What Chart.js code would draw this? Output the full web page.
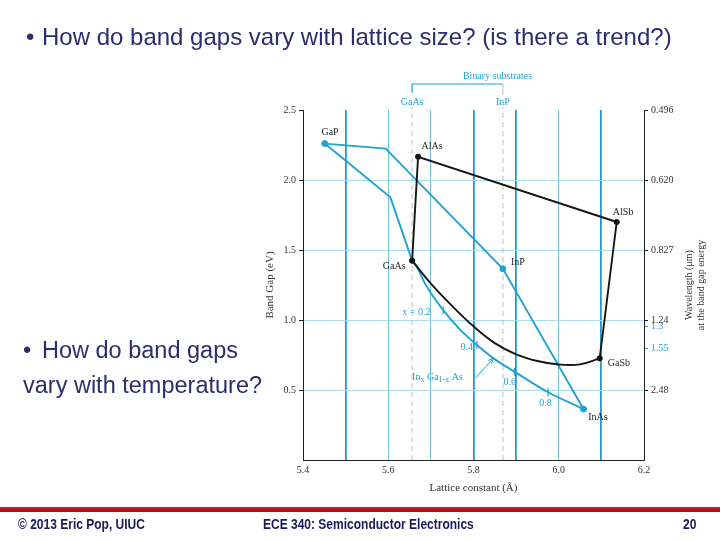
<!DOCTYPE html>
<html>
<head>
<meta charset="utf-8">
<script src="https://cdn.jsdelivr.net/npm/chart.js@4.4.1/dist/chart.umd.min.js"></script>
<style>
  html, body { margin: 0; padding: 0; background: #fff; }
  #slide { position: relative; width: 720px; height: 540px; overflow: hidden; background: #fff; }
  #chart { position: absolute; left: 0; top: 0; }
  .bullet { position: absolute; font-family: "Liberation Sans", Arial, sans-serif; color: #2d2c6e; white-space: nowrap; line-height: normal; }
  .redbar { position: absolute; left: 0; top: 507px; width: 720px; height: 5px; background: linear-gradient(#d01c20, #a80d12); }
  .foot { position: absolute; top: 515px; font-family: "Liberation Sans", Arial, sans-serif; font-weight: bold; font-size: 15px; line-height: normal;
          color: #1c1a5c; white-space: nowrap; transform: scaleX(0.8); transform-origin: 0 0; }
</style>
</head>
<body>
<div id="slide">
  <canvas id="chart" width="720" height="540"></canvas>
  <div class="bullet" style="left:26px; top:23px; font-size:24px;">&bull;</div>
  <div class="bullet" style="left:42px; top:23px; font-size:24px;">How do band gaps vary with lattice size? (is there a trend?)</div>
  <div class="bullet" style="left:23px; top:337px; font-size:23.5px;">&bull;</div>
  <div class="bullet" style="left:42px; top:337px; font-size:23.5px;">How do band gaps</div>
  <div class="bullet" style="left:23px; top:372px; font-size:23.5px;">vary with temperature?</div>
  <div class="redbar"></div>
  <div class="foot" style="left:18px;">&copy; 2013 Eric Pop, UIUC</div>
  <div class="foot" style="left:263px;">ECE 340: Semiconductor Electronics</div>
  <div class="foot" style="left:683px;">20</div>
</div>
<script>
// Données (constante de réseau en Å, gap en eV)

const BLUE = '#22a2d2';
const SERIF = '"Liberation Serif", "DejaVu Serif", serif';

// GaP -> coude -> InP -> InAs (GaInP puis InAsP)
const gaInPX = [5.451, 5.594, 5.869, 6.058];
const gaInPY = [2.26, 2.224, 1.366, 0.364];

// GaP -> coude -> GaAs (GaAsP)
const gaAsPX = [5.451, 5.605, 5.656];
const gaAsPY = [2.26, 1.876, 1.424];

// InxGa1-xAs, de GaAs à InAs
const inGaAsX = [5.656, 5.667, 5.688, 5.729, 5.769, 5.808, 5.847, 5.896, 5.975, 6.058];
const inGaAsY = [1.424, 1.381, 1.25, 1.07, 0.929, 0.821, 0.726, 0.631, 0.484, 0.364];

// repères de composition x = 0.2, 0.4, 0.6, 0.8 sur la courbe InGaAs
const compX = [5.729, 5.808, 5.896, 5.975];
const compY = [1.07, 0.821, 0.631, 0.484];

// GaAs -> AlAs -> AlSb -> GaSb (noir)
const alX = [5.656, 5.670, 6.136, 6.096];
const alY = [1.424, 2.166, 1.70, 0.726];

// GaAsSb, de GaAs à GaSb (noir, courbe)
const gaAsSbX = [5.656, 5.70, 5.75, 5.80, 5.85, 5.90, 5.95, 6.00, 6.05, 6.096];
const gaAsSbY = [1.424, 1.26, 1.10, 0.955, 0.835, 0.755, 0.707, 0.682, 0.683, 0.726];

// points des binaires
const blueDotX = [5.451, 5.869, 6.058];
const blueDotY = [2.26, 1.366, 0.364];
const blackDotX = [5.656, 5.670, 6.136, 6.096];
const blackDotY = [1.424, 2.166, 1.70, 0.726];

// substrats binaires (traits pointillés)
const substrateNames = ['GaAs', 'InP'];
const substrateX = [5.656, 5.869];

// axes
const xTicks = [5.4, 5.5, 5.6, 5.7, 5.8, 5.9, 6.0, 6.1, 6.2];
const xLabels = ['5.4', '', '5.6', '', '5.8', '', '6.0', '', '6.2'];
const xStrongGrid = [5.5, 5.8, 5.9, 6.1];
const yTicks = [0, 0.5, 1.0, 1.5, 2.0, 2.5];
const yLabels = ['', '0.5', '1.0', '1.5', '2.0', '2.5'];
const wlGaps = [0.5, 0.8, 0.954, 1.0, 1.5, 2.0, 2.5];
const wlLabels = ['2.48', '1.55', '1.3', '1.24', '0.827', '0.620', '0.496'];
const wlBlue = ['1.55', '1.3'];
const wlTitle = ['Wavelength (μm)', 'at the band gap energy'];

// étiquettes du graphique (coordonnées en données)
const chartLabels = [
    { text: 'GaP', x: 5.4635, y: 2.343, color: '#222' },
    { text: 'AlAs', x: 5.703, y: 2.243, color: '#222' },
    { text: 'AlSb', x: 6.151, y: 1.771, color: '#222' },
    { text: 'GaAs', x: 5.614, y: 1.386, color: '#222' },
    { text: 'InP', x: 5.904, y: 1.414, color: '#222' },
    { text: 'GaSb', x: 6.141, y: 0.693, color: '#222' },
    { text: 'InAs', x: 6.092, y: 0.307, color: '#222' },
    { text: 'x = 0.2', x: 5.666, y: 1.057, color: BLUE },
    { text: '0.4', x: 5.784, y: 0.807, color: BLUE },
    { text: '0.6', x: 5.885, y: 0.557, color: BLUE },
    { text: '0.8', x: 5.969, y: 0.407, color: BLUE }
];

function toPoints(xs, ys) {
    return xs.map((x, i) => ({ x: x, y: ys[i] }));
}

function lineSet(xs, ys, color, extra) {
    return Object.assign({
        data: toPoints(xs, ys),
        showLine: true,
        borderColor: color,
        borderWidth: 1.9,
        pointRadius: 0,
        fill: false
    }, extra || {});
}

/**
 * Dessine les étiquettes, le crochet "Binary substrates", la flèche InGaAs
 * et le titre de l'axe de droite
 */
const annotationPlugin = {
    id: 'annotations',
    afterDatasetsDraw(chart) {
        const ctx = chart.ctx;
        const xs = chart.scales.x;
        const ys = chart.scales.y;
        const area = chart.chartArea;
        ctx.save();
        ctx.textAlign = 'center';
        ctx.textBaseline = 'middle';
        ctx.font = '10px ' + SERIF;

        chartLabels.forEach(l => {
            ctx.fillStyle = l.color;
            ctx.fillText(l.text, xs.getPixelForValue(l.x), ys.getPixelForValue(l.y));
        });

        // In_x Ga_1-x As avec indices
        ctx.fillStyle = BLUE;
        ctx.textAlign = 'left';
        let px = xs.getPixelForValue(5.656);
        const py = ys.getPixelForValue(0.593);
        const parts = [['In', 0, 10], ['x', 3, 8], [' Ga', 0, 10], ['1-x', 3, 8], [' As', 0, 10]];
        parts.forEach(p => {
            ctx.font = p[2] + 'px ' + SERIF;
            ctx.fillText(p[0], px, py + p[1]);
            px += ctx.measureText(p[0]).width;
        });

        // flèche vers la courbe
        const ax0 = xs.getPixelForValue(5.805), ay0 = ys.getPixelForValue(0.586);
        const ax1 = xs.getPixelForValue(5.847), ay1 = ys.getPixelForValue(0.729);
        ctx.strokeStyle = BLUE;
        ctx.lineWidth = 1;
        ctx.beginPath();
        ctx.moveTo(ax0, ay0);
        ctx.lineTo(ax1, ay1);
        const ang = Math.atan2(ay1 - ay0, ax1 - ax0);
        ctx.moveTo(ax1, ay1);
        ctx.lineTo(ax1 - 6 * Math.cos(ang - 0.4), ay1 - 6 * Math.sin(ang - 0.4));
        ctx.moveTo(ax1, ay1);
        ctx.lineTo(ax1 - 6 * Math.cos(ang + 0.4), ay1 - 6 * Math.sin(ang + 0.4));
        ctx.stroke();

        // crochet des substrats binaires
        const top = area.top;
        const bx0 = xs.getPixelForValue(substrateX[0]);
        const bx1 = xs.getPixelForValue(substrateX[1]);
        ctx.lineWidth = 1.2;
        ctx.strokeStyle = BLUE;
        ctx.beginPath();
        ctx.moveTo(bx0, top - 17);
        ctx.lineTo(bx0, top - 26);
        ctx.lineTo(bx1, top - 26);
        ctx.stroke();
        ctx.strokeStyle = '#c4c4c4';
        ctx.lineWidth = 1;
        ctx.beginPath();
        ctx.moveTo(bx1, top - 26);
        ctx.lineTo(bx1, top - 15);
        ctx.stroke();
        ctx.fillStyle = BLUE;
        ctx.font = '10px ' + SERIF;
        ctx.textAlign = 'center';
        substrateNames.forEach((n, i) => {
            ctx.fillText(n, xs.getPixelForValue(substrateX[i]), top - 8);
        });
        ctx.fillText('Binary substrates', (bx0 + bx1) / 2 + 40, top - 34);

        // titre de l'axe de droite, lu de bas en haut
        const cy = (area.top + area.bottom) / 2;
        ctx.fillStyle = '#333';
        ctx.font = '10px ' + SERIF;
        wlTitle.forEach((t, i) => {
            ctx.save();
            ctx.translate(area.right + 45 + i * 12, cy);
            ctx.rotate(-Math.PI / 2);
            ctx.fillText(t, 0, 0);
            ctx.restore();
        });
        ctx.restore();
    }
};

// le premier dataset est dessiné au-dessus
const datasets = [
    {
        data: toPoints(blackDotX, blackDotY),
        showLine: false,
        pointRadius: 2.6,
        backgroundColor: '#111',
        borderColor: '#111'
    },
    {
        data: toPoints(blueDotX, blueDotY),
        showLine: false,
        pointRadius: 3,
        backgroundColor: BLUE,
        borderColor: BLUE
    },
    {
        data: toPoints(compX, compY),
        showLine: false,
        pointStyle: 'line',
        rotation: 90,
        pointRadius: 4,
        borderColor: BLUE,
        borderWidth: 1.2
    },
    lineSet(alX, alY, '#151515'),
    lineSet(gaAsSbX, gaAsSbY, '#151515', { tension: 0.4 }),
    lineSet(gaInPX, gaInPY, BLUE),
    lineSet(gaAsPX, gaAsPY, BLUE),
    lineSet(inGaAsX, inGaAsY, BLUE, { tension: 0.35 }),
    // traits pointillés des substrats
    ...substrateX.map(x => ({
        data: [{ x: x, y: 0 }, { x: x, y: 2.52 }],
        showLine: true,
        borderColor: '#bdbdbd',
        borderWidth: 1,
        borderDash: [5, 4],
        pointRadius: 0,
        clip: false
    }))
];

new Chart(document.getElementById('chart').getContext('2d'), {
    type: 'scatter',
    data: { datasets: datasets },
    plugins: [annotationPlugin],
    options: {
        responsive: false,
        animation: false,
        layout: { padding: { left: 262, right: 13, top: 110, bottom: 45 } },
        plugins: { legend: { display: false }, tooltip: { enabled: false } },
        scales: {
            x: {
                type: 'linear',
                min: 5.4,
                max: 6.2,
                afterBuildTicks: s => { s.ticks = xTicks.map(v => ({ value: v })); },
                afterFit: s => { s.height = 35; },
                ticks: {
                    autoSkip: false,
                    maxRotation: 0,
                    padding: 4,
                    color: '#333',
                    font: { family: SERIF, size: 10 },
                    callback: (v, i) => xLabels[i]
                },
                grid: {
                    drawTicks: false,
                    color: c => {
                        const v = c.tick.value;
                        if (v <= 5.4 || v >= 6.2) return 'rgba(0,0,0,0)';
                        return xStrongGrid.some(s => Math.abs(s - v) < 1e-6) ? '#1f9bcb' : '#6ec3e0';
                    },
                    lineWidth: c => xStrongGrid.some(s => Math.abs(s - c.tick.value) < 1e-6) ? 1.8 : 1
                },
                border: { display: true, color: '#222', width: 1 },
                title: {
                    display: true,
                    text: 'Lattice constant (Å)',
                    color: '#333',
                    font: { family: SERIF, size: 11 },
                    padding: { top: 4, bottom: 0 }
                }
            },
            y: {
                type: 'linear',
                position: 'left',
                min: 0,
                max: 2.5,
                afterBuildTicks: s => { s.ticks = yTicks.map(v => ({ value: v })); },
                afterFit: s => { s.width = 41; },
                ticks: {
                    padding: 3,
                    color: '#333',
                    font: { family: SERIF, size: 10 },
                    callback: (v, i) => yLabels[i]
                },
                grid: {
                    tickLength: 4,
                    color: c => (c.tick.value > 0.1 && c.tick.value < 2.4) ? '#a9dcee' : 'rgba(0,0,0,0)',
                    tickColor: c => c.tick.value > 0.1 ? '#222' : 'rgba(0,0,0,0)'
                },
                border: { display: true, color: '#222', width: 1 },
                title: {
                    display: true,
                    text: 'Band Gap (eV)',
                    color: '#333',
                    font: { family: SERIF, size: 11 },
                    padding: { top: 2, bottom: 0 }
                }
            },
            y2: {
                type: 'linear',
                position: 'right',
                min: 0,
                max: 2.5,
                afterBuildTicks: s => { s.ticks = wlGaps.map(v => ({ value: v })); },
                afterFit: s => { s.width = 63; },
                ticks: {
                    autoSkip: false,
                    padding: 3,
                    font: { family: SERIF, size: 10 },
                    color: c => wlBlue.includes(wlLabels[c.index]) ? BLUE : '#333',
                    callback: (v, i) => wlLabels[i]
                },
                grid: {
                    drawOnChartArea: false,
                    tickLength: 4,
                    tickColor: c => wlBlue.includes(wlLabels[c.index]) ? BLUE : '#222'
                },
                border: { display: true, color: '#222', width: 1 }
            }
        }
    }
});
</script>
</body>
</html>
